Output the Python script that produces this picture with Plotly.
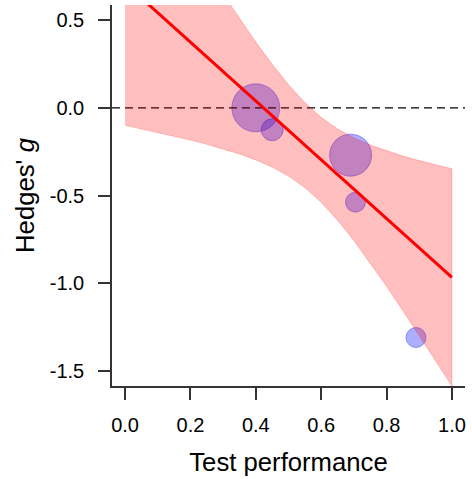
import plotly.graph_objects as go

# Study data (meta-regression)
test_performance = [0.40, 0.45, 0.69, 0.705, 0.89]
hedges_g = [0.00, -0.125, -0.27, -0.538, -1.31]
study_weight = [2.4, 1.1, 2.1, 1.0, 1.0]

# Fitted regression line (endpoints at x = 0 and x = 1)
fit_x = [0.0, 1.0]
fit_y = [0.71, -0.967]

# Confidence band
band_x = [0.00, 0.05, 0.10, 0.15, 0.20, 0.25, 0.30, 0.35, 0.40, 0.45, 0.50,
          0.55, 0.60, 0.65, 0.70, 0.75, 0.80, 0.85, 0.90, 0.95, 1.00]
band_upper = [1.520, 1.372, 1.225, 1.079, 0.933, 0.790, 0.648, 0.509, 0.375, 0.248, 0.132,
              0.030, -0.054, -0.120, -0.171, -0.212, -0.245, -0.275, -0.301, -0.325, -0.347]
band_lower = [-0.100, -0.120, -0.140, -0.162, -0.184, -0.208, -0.234, -0.263, -0.297, -0.338, -0.389,
              -0.455, -0.539, -0.641, -0.757, -0.884, -1.018, -1.157, -1.298, -1.442, -1.587]

x_ticks = [0.0, 0.2, 0.4, 0.6, 0.8, 1.0]
x_tick_labels = ["0.0", "0.2", "0.4", "0.6", "0.8", "1.0"]
y_ticks = [0.5, 0.0, -0.5, -1.0, -1.5]
y_tick_labels = ["0.5", "0.0", "-0.5", "-1.0", "-1.5"]
ref_x = [-0.04, 1.04]
ref_y = [0.0, 0.0]

FONT = "Liberation Sans, Arial, Helvetica, sans-serif"
AXIS_COL = "#333333"

fig = go.Figure()

# Study bubbles
fig.add_trace(go.Scatter(
    x=test_performance, y=hedges_g, mode="markers",
    marker=dict(size=study_weight, sizemode="diameter", sizeref=0.05,
                color="rgba(0,0,255,0.45)",
                line=dict(color="rgba(0,0,255,0.55)", width=1)),
    hoverinfo="skip", showlegend=False))

# Zero reference line
fig.add_trace(go.Scatter(
    x=ref_x, y=ref_y, mode="lines",
    line=dict(color="black", width=1.3, dash="8px,5px"),
    hoverinfo="skip", showlegend=False))

# Confidence band
fig.add_trace(go.Scatter(
    x=band_x + band_x[::-1], y=band_upper + band_lower[::-1],
    mode="lines", fill="toself", fillcolor="rgba(255,0,0,0.25)",
    line=dict(color="rgba(255,0,0,0.2)", width=1),
    hoverinfo="skip", showlegend=False))

# Regression line
fig.add_trace(go.Scatter(
    x=fit_x, y=fit_y, mode="lines",
    line=dict(color="#ff0000", width=3),
    hoverinfo="skip", showlegend=False))

fig.update_layout(
    width=472, height=479,
    margin=dict(l=112, r=7, t=5, b=93, autoexpand=False),
    plot_bgcolor="white", paper_bgcolor="white",
    font=dict(family=FONT, size=20, color="black"),
    showlegend=False,
)

fig.update_xaxes(
    range=[-0.04, 1.04], tickvals=x_ticks, ticktext=x_tick_labels,
    showgrid=False, zeroline=False, automargin=False,
    showline=True, linecolor=AXIS_COL, linewidth=1.5,
    ticks="outside", ticklen=12, tickwidth=1.5, tickcolor=AXIS_COL,
    tickfont=dict(size=20, family=FONT, color="black"),
    ticklabelstandoff=8,
    title=dict(text="Test performance", font=dict(size=25.7, family=FONT), standoff=18),
)
fig.update_yaxes(
    range=[-1.5866, 0.5866], tickvals=y_ticks, ticktext=y_tick_labels,
    showgrid=False, zeroline=False, automargin=False,
    showline=True, linecolor=AXIS_COL, linewidth=1.5,
    ticks="outside", ticklen=12, tickwidth=1.5, tickcolor=AXIS_COL,
    tickfont=dict(size=20, family=FONT, color="black"),
    ticklabelstandoff=10,
    title=dict(text="Hedges' <i>g</i>", font=dict(size=25.7, family=FONT), standoff=8),
)

fig.write_html(
    "out.html",
    config={"displayModeBar": False},
    post_script="document.body.style.margin='0';document.body.style.padding='0';",
)
